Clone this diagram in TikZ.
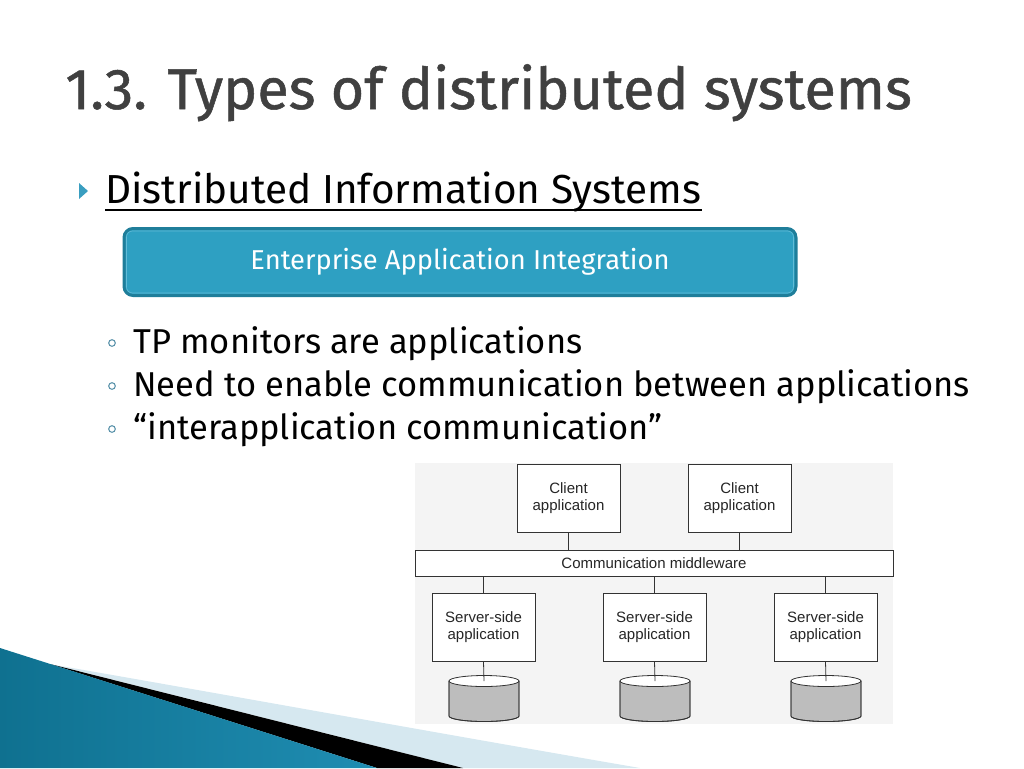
\documentclass[tikz,border=0pt]{standalone}
\usepackage{fontspec}
\setmainfont{Fira Sans}
\newfontfamily\titlefont[FakeBold=0.9]{Fira Sans}
\newfontfamily\diagfont{Liberation Sans}
\usepackage{xcolor}
\usetikzlibrary{shapes,arrows,positioning,calc}

\definecolor{titlegray}{HTML}{404040}
\definecolor{eaifill}{HTML}{2EA0C2}
\definecolor{eaiedge}{HTML}{1F7E9A}
\definecolor{eaiinner}{HTML}{62BCD7}
\definecolor{tealdark}{HTML}{0F7190}
\definecolor{teallight}{HTML}{52BADA}
\definecolor{tealmid}{HTML}{1F8DB2}
\definecolor{bandblue}{HTML}{D6E8F0}
\definecolor{bulletteal}{HTML}{3A9EC0}
\definecolor{ringblue}{HTML}{5E95AC}
\definecolor{diagbg}{HTML}{F4F4F4}
\definecolor{cylgray}{HTML}{BDBDBD}

\begin{document}
\begin{tikzpicture}[x=1pt, y=-1pt, line width=0.8pt,
    slidetext/.style={anchor=base west, inner sep=0pt, text=black},
    appbox/.style={draw=black!80, fill=white, minimum width=103pt, minimum height=68pt,
        align=center, inner sep=0pt, text=black!85, font={\diagfont\fontsize{15}{17.5}\selectfont}},
    dbase/.style={draw=black!80, fill=cylgray}]
    \useasboundingbox (0,0) rectangle (1024,768);

    % corner decoration
    \fill[bandblue] (55,665) .. controls (200,690) and (420,730) .. (640,768) -- (463,768) -- cycle;
    \fill[black] (50,664) -- (463,768) -- (377,768) -- cycle;
    \shade[left color=tealdark, middle color=teallight, right color=tealmid]
        (0,648) -- (377,768) -- (0,768) -- cycle;

    % title and headings
    \node[slidetext, text=titlegray, font={\titlefont\fontsize{57.5}{66}\selectfont}] (title) at (65,109) {1.3. Types of distributed systems};

    \fill[bulletteal] (79,183) -- (88,191) -- (79,199) -- cycle;
    \node[slidetext, font=\fontsize{40.5}{46}\selectfont] (dis) at (105,203) {Distributed Information Systems};
    \draw[line width=1.6pt] ([yshift=-7pt]dis.base west) -- ([yshift=-7pt]dis.base east);

    \node[draw=eaiedge, line width=3pt, fill=eaifill, rounded corners=9pt,
        minimum width=672pt, minimum height=67pt, text=white,
        font=\fontsize{27.3}{31}\selectfont] (eai) at (460,262) {Enterprise Application Integration};
    \draw[eaiinner, line width=0.6pt, rounded corners=6pt]
        ([shift={(4,-4)}]eai.south west) rectangle ([shift={(-4,4)}]eai.north east);

    \foreach \y/\txt [count=\i] in {353/TP monitors are applications,
            396/Need to enable communication between applications,
            439/“interapplication communication”} {
        \draw[ringblue, line width=1.1pt] (112,\y-10) circle (3.3pt);
        \node[slidetext, font=\fontsize{34.5}{40}\selectfont] (item\i) at (133,\y) {\txt};
    }

    % middleware figure
    \fill[diagbg] (415,463) rectangle (893,724);
    \node[appbox] (c1) at (568.5,498) {Client\\application};
    \node[appbox] (c2) at (739.5,498) {Client\\application};
    \node[draw=black!80, fill=white, minimum width=478pt, minimum height=26pt, inner sep=0pt,
        text=black!85, font={\diagfont\fontsize{15}{17.5}\selectfont}] (mw) at (654,563) {Communication middleware};
    \node[appbox] (s1) at (483.5,627) {Server-side\\application};
    \node[appbox] (s2) at (654.5,627) {Server-side\\application};
    \node[appbox] (s3) at (825.5,627) {Server-side\\application};

    \foreach \s/\cx [count=\i] in {s1/484, s2/655, s3/826} {
        \fill[dbase] (\cx-35,681) -- (\cx-35,716) arc[start angle=180, end angle=0, x radius=35, y radius=5.5]
            -- (\cx+35,681) -- cycle;
        \draw[dbase, fill=white] (\cx,681) ellipse[x radius=35, y radius=5.5];
        \draw[black!80] (\cx-35,681) -- (\cx-35,716) arc[start angle=180, end angle=0, x radius=35, y radius=5.5]
            -- (\cx+35,681);
        \coordinate (d\i) at (\cx,681);
        \draw[black!80] (\s |- mw.south) -- (\s.north);
        \draw[black!80] (\s.south) -- (d\i);
    }
    \draw[black!80] (c1) -- (c1 |- mw.north);
    \draw[black!80] (c2) -- (c2 |- mw.north);
\end{tikzpicture}
\end{document}
